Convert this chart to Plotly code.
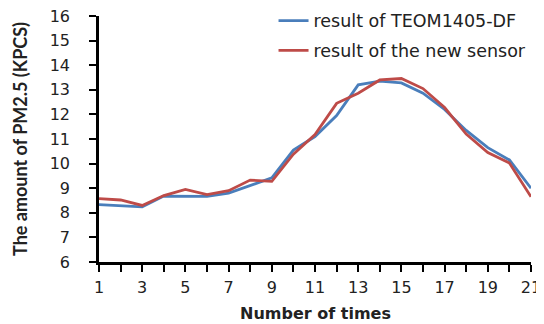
import plotly.graph_objects as go

times = list(range(1, 22))
teom = [8.33, 8.28, 8.24, 8.68, 8.68, 8.67, 8.8, 9.1, 9.42, 10.55, 11.1, 11.95, 13.2, 13.35, 13.28, 12.86, 12.2, 11.35, 10.65, 10.15, 9.0]
new_sensor = [8.58, 8.52, 8.3, 8.7, 8.95, 8.74, 8.9, 9.33, 9.28, 10.38, 11.18, 12.45, 12.86, 13.4, 13.46, 13.05, 12.28, 11.2, 10.45, 10.02, 8.65]
x_ticks = list(range(1, 22))
x_ticktext = [str(v) if v % 2 == 1 else "" for v in x_ticks]
y_ticks = list(range(6, 17))

fig = go.Figure()
fig.add_trace(go.Scatter(x=times, y=teom, mode="lines", name="result of TEOM1405-DF",
                         legendgroup="a", line=dict(color="#4A7EBB", width=2.8)))
fig.add_trace(go.Scatter(x=times, y=new_sensor, mode="lines", name="result of the new sensor",
                         legendgroup="b", line=dict(color="#BE4B48", width=2.8)))

font_family = "'DejaVu Sans', sans-serif"
fig.update_layout(
    width=536, height=316,
    margin=dict(l=91, r=13, t=8, b=62, autoexpand=False),
    paper_bgcolor="white", plot_bgcolor="white",
    font=dict(family=font_family, color="#222222", size=16),
    showlegend=True,
    legend=dict(x=0.404, y=1.054, xanchor="left", yanchor="top",
                bgcolor="rgba(0,0,0,0)", font=dict(size=17.5, color="#222222"),
                tracegroupgap=4),
    xaxis=dict(range=[1, 21], tickmode="array", tickvals=x_ticks, ticktext=x_ticktext,
               showgrid=False, zeroline=False, showline=True, linecolor="black", linewidth=2.5,
               ticks="outside", ticklen=7, tickwidth=2, tickcolor="black",
               tickfont=dict(size=16), automargin=False, ticklabeloverflow="allow",
               ticklabelstandoff=2),
    yaxis=dict(range=[6, 16], tickmode="array", tickvals=y_ticks,
               showgrid=False, zeroline=False, showline=True, linecolor="black", linewidth=2.5,
               ticks="outside", ticklen=7, tickwidth=2, tickcolor="black",
               tickfont=dict(size=16), automargin=False, ticklabeloverflow="allow",
               ticklabelstandoff=16),
    annotations=[
        dict(text="<b>Number of times</b>", x=0.5, y=0, xref="paper", yref="paper",
             xanchor="center", yanchor="middle", yshift=-51, showarrow=False,
             font=dict(family=font_family, size=16, color="#222222")),
        dict(text="<b>The amount of PM2.5 (KPCS)</b>", x=0, y=0.5, xref="paper", yref="paper",
             xanchor="center", yanchor="middle", xshift=-79, textangle=-90, showarrow=False,
             font=dict(family="Lato, sans-serif", size=18, color="#222222")),
    ],
)

fig.write_html("out.html")
